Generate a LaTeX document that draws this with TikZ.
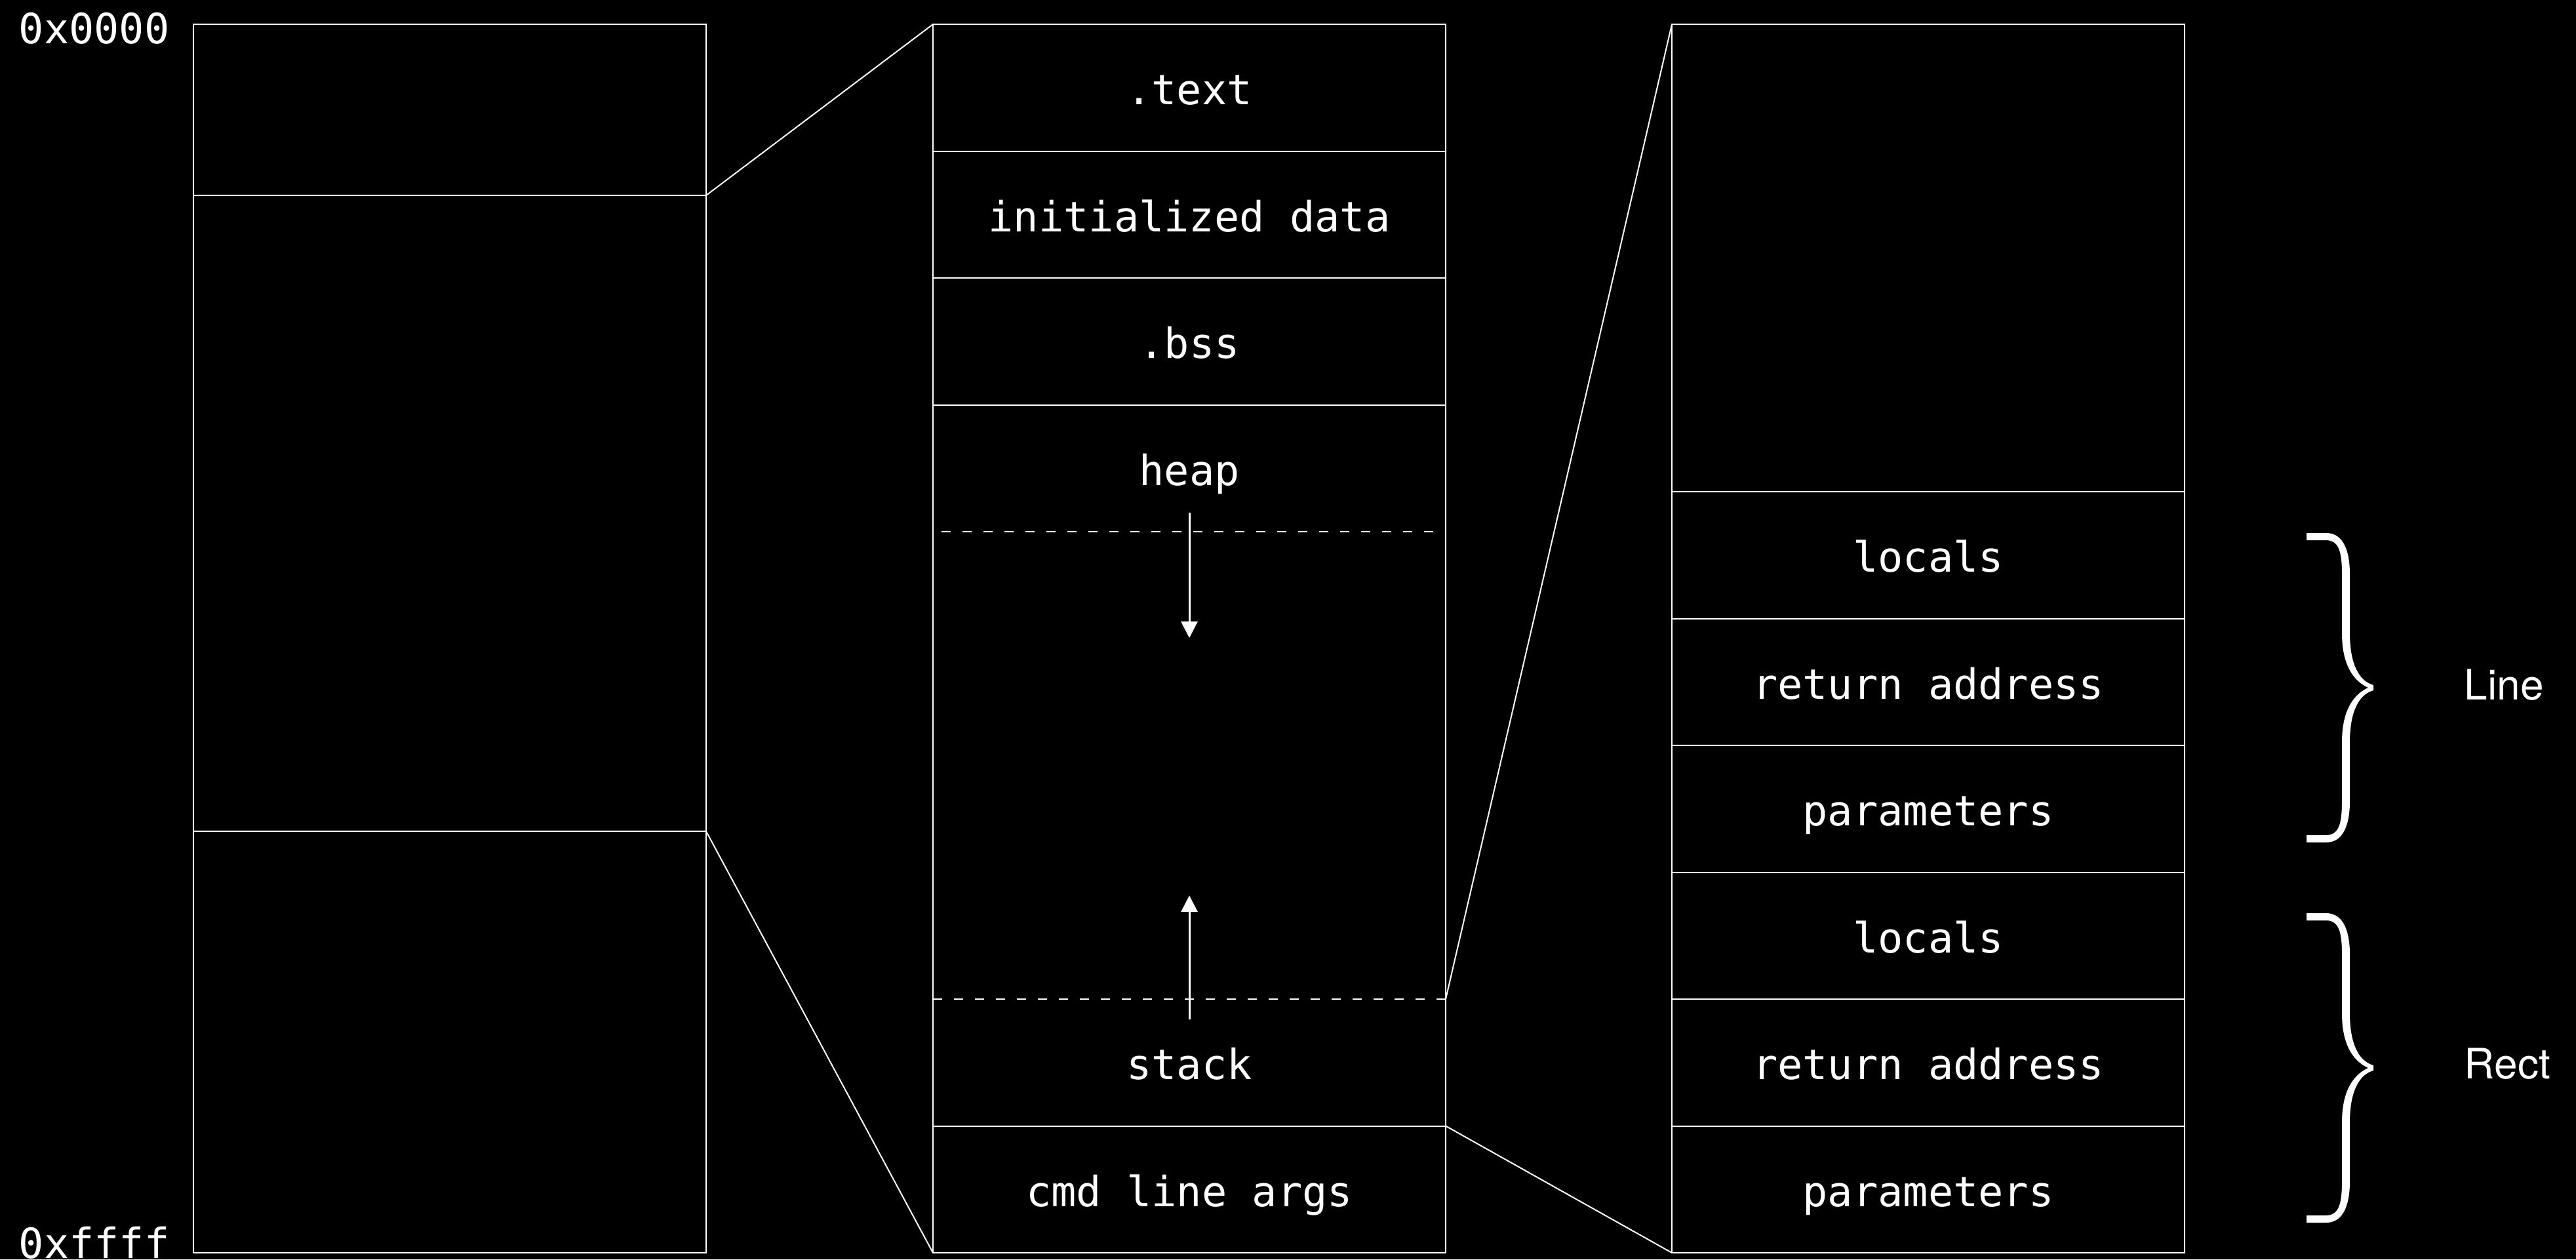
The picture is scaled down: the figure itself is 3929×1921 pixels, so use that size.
\documentclass[tikz,border=0pt]{standalone}
\usepackage{fontspec}
\newfontfamily\monof{DejaVu Sans Mono}
\newfontfamily\helvf{TeX Gyre Heros}
\usetikzlibrary{arrows.meta}
\begin{document}
\begin{tikzpicture}[x=0.25pt,y=-0.25pt,
  ln/.style={draw=white,line width=0.5pt},
  boxn/.style={ln,anchor=north west,inner sep=0,outer sep=0,minimum width=195.5pt,minimum height=468.5pt},
  lbl/.style={text=white,inner sep=0,anchor=base,font=\monof\fontsize{15.9pt}{19pt}\selectfont},
  addr/.style={lbl,anchor=base west},
  side/.style={text=white,inner sep=0,anchor=base west,font=\helvf\fontsize{16pt}{19pt}\selectfont},
  dashln/.style={ln,dash pattern=on 3.6pt off 4.4pt},
  growarrow/.style={draw=white,line width=0.75pt,-{Triangle[length=6.25pt,width=6.25pt]}},
  curly/.pic={
    \fill[white] (0,0) -- (30,0) .. controls (52,0) and (66,20) .. (66,63) -- (66,153)
      .. controls (66,200) and (80,226) .. (102,232) -- (102,240)
      .. controls (80,246) and (66,272) .. (66,319) -- (66,409)
      .. controls (66,452) and (52,472) .. (30,472) -- (0,472) -- (0,461) -- (29,461)
      .. controls (48,461) and (54,447) .. (54,409) -- (54,319)
      .. controls (54,276) and (68,248) .. (94,236)
      .. controls (68,224) and (54,196) .. (54,153) -- (54,63)
      .. controls (54,25) and (48,11) .. (29,11) -- (0,11) -- cycle;
  }
]
\fill[black] (0,0) rectangle (3929,1921);
\useasboundingbox (0,0) rectangle (3929,1921);

% address labels
\node[addr] (a0) at (28,66) {0x0000};
\node[addr] (a1) at (28,1919) {0xffff};

% left box
\node[boxn] (L) at (295,37) {};
\coordinate (L1w) at (295,298);  \coordinate (L1e) at (1077,298);
\coordinate (L2w) at (295,1268); \coordinate (L2e) at (1077,1268);
\draw[ln] (L1w) -- (L1e);
\draw[ln] (L2w) -- (L2e);

% middle box
\node[boxn] (M) at (1423,37) {};
\coordinate (M1w) at (1423,230.5); \coordinate (M1e) at (2205,230.5);
\coordinate (M2w) at (1423,424);   \coordinate (M2e) at (2205,424);
\coordinate (M3w) at (1423,617.5); \coordinate (M3e) at (2205,617.5);
\coordinate (Mhw) at (1436,811);   \coordinate (Mhe) at (2191,811);
\coordinate (Msw) at (1423,1524);  \coordinate (Mse) at (2205,1524);
\coordinate (Mcw) at (1423,1717.5);\coordinate (Mce) at (2205,1717.5);
\draw[ln] (M1w) -- (M1e);
\draw[ln] (M2w) -- (M2e);
\draw[ln] (M3w) -- (M3e);
\draw[dashln] (Mhw) -- (Mhe);
\draw[dashln] (Msw) -- (Mse);
\draw[ln] (Mcw) -- (Mce);

\node[lbl] (ttext) at (1814,159.75) {.text};
\node[lbl] (tinit) at (1814,353.25) {initialized data};
\node[lbl] (tbss)  at (1814,546.75) {.bss};
\node[lbl] (theap) at (1814,740.25) {heap};
\node[lbl] (tstack) at (1814,1646.75) {stack};
\node[lbl] (tcmd)  at (1814,1840.25) {cmd line args};

\coordinate (hs) at (1814,782);  \coordinate (he) at (1814,973);
\coordinate (ss) at (1814,1555); \coordinate (se) at (1814,1366);
\draw[growarrow] (hs) -- (he);
\draw[growarrow] (ss) -- (se);

% right box
\node[boxn] (R) at (2550,37) {};
\foreach \yy/\nm in {750/1,943.5/2,1137/3,1330.5/4,1524/5,1717.5/6}{
  \coordinate (R\nm w) at (2550,\yy); \coordinate (R\nm e) at (3332,\yy);
  \draw[ln] (R\nm w) -- (R\nm e);
}
\node[lbl] (rloc1) at (2941,872.75) {locals};
\node[lbl] (rret1) at (2941,1066.25) {return address};
\node[lbl] (rpar1) at (2941,1259.75) {parameters};
\node[lbl] (rloc2) at (2941,1453.25) {locals};
\node[lbl] (rret2) at (2941,1646.75) {return address};
\node[lbl] (rpar2) at (2941,1840.25) {parameters};

% zoom connectors
\draw[ln] (L1e) -- (M.north west);
\draw[ln] (L2e) -- (M.south west);
\draw[ln] (Mse) -- (R.north west);
\draw[ln] (Mce) -- (R.south west);

% braces and labels
\pic at (3518,813) {curly};
\pic at (3518,1393) {curly};
\node[side] (line) at (3758,1067) {Line};
\node[side] (rect) at (3758,1645) {Rect};
\end{tikzpicture}
\end{document}
